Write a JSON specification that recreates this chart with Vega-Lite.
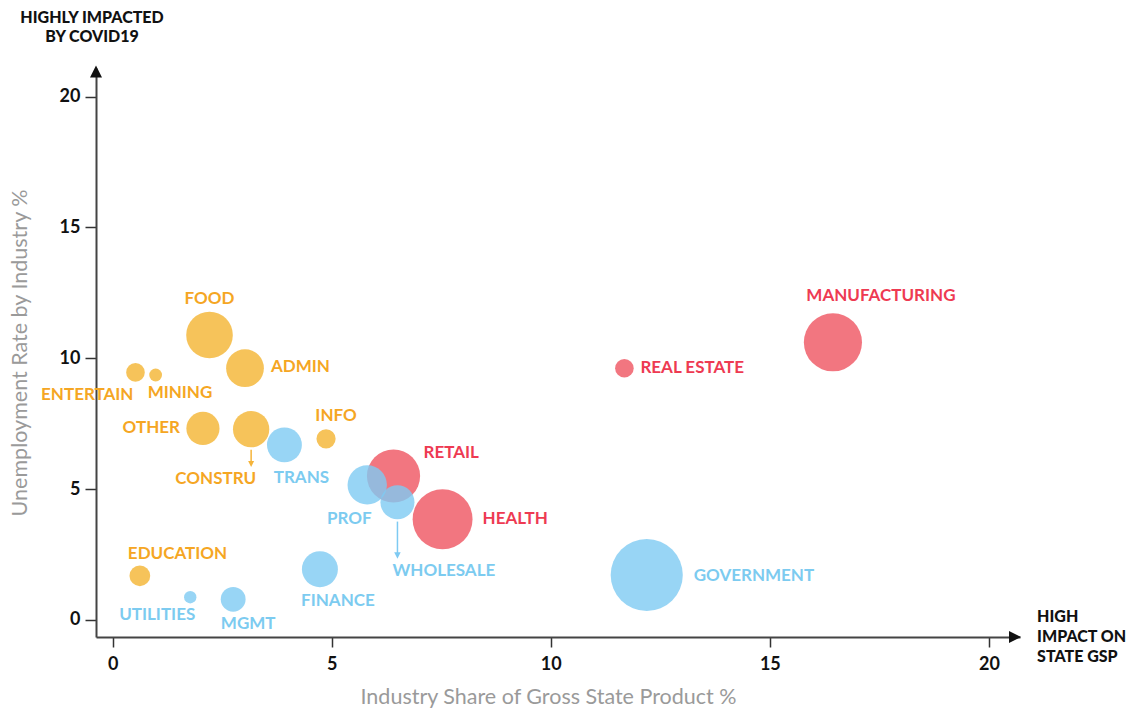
{
  "$schema": "https://vega.github.io/schema/vega-lite/v6.json",
  "width": 924,
  "height": 569,
  "autosize": "none",
  "padding": {"left": 96, "top": 68, "right": 106, "bottom": 73},
  "background": "white",
  "config": {
    "view": {"stroke": null},
    "font": "Lato",
    "text": {"font": "Lato", "fontSize": 17, "fontWeight": "bold", "baseline": "middle"},
    "axis": {
      "grid": false,
      "domainColor": "#444444",
      "domainWidth": 2,
      "tickColor": "#333333",
      "tickWidth": 1.5,
      "labelFont": "Lato",
      "labelFontSize": 18,
      "labelFontWeight": "bold",
      "labelColor": "#111111",
      "titleFont": "Lato",
      "titleFontSize": 21.5,
      "titleFontWeight": "normal",
      "titleColor": "#9a9a9a"
    }
  },
  "data": {
    "values": [
      {"industry": "FOOD", "category": "Highly impacted", "gsp_share": 2.21, "unemployment": 10.89, "employment": 692},
      {"industry": "ADMIN", "category": "Highly impacted", "gsp_share": 3.02, "unemployment": 9.62, "employment": 454},
      {"industry": "ENTERTAIN", "category": "Highly impacted", "gsp_share": 0.52, "unemployment": 9.46, "employment": 110},
      {"industry": "MINING", "category": "Highly impacted", "gsp_share": 0.98, "unemployment": 9.36, "employment": 52},
      {"industry": "OTHER", "category": "Highly impacted", "gsp_share": 2.06, "unemployment": 7.32, "employment": 350},
      {"industry": "CONSTRU", "category": "Highly impacted", "gsp_share": 3.16, "unemployment": 7.29, "employment": 420},
      {"industry": "INFO", "category": "Highly impacted", "gsp_share": 4.87, "unemployment": 6.92, "employment": 117},
      {"industry": "EDUCATION", "category": "Highly impacted", "gsp_share": 0.62, "unemployment": 1.69, "employment": 137},
      {"industry": "RETAIL", "category": "High impact on both", "gsp_share": 6.41, "unemployment": 5.5, "employment": 900},
      {"industry": "HEALTH", "category": "High impact on both", "gsp_share": 7.53, "unemployment": 3.85, "employment": 1142},
      {"industry": "REAL ESTATE", "category": "High impact on both", "gsp_share": 11.68, "unemployment": 9.62, "employment": 110},
      {"industry": "MANUFACTURING", "category": "High impact on both", "gsp_share": 16.44, "unemployment": 10.61, "employment": 1076},
      {"industry": "TRANS", "category": "Lower impact", "gsp_share": 3.92, "unemployment": 6.69, "employment": 388},
      {"industry": "PROF", "category": "Lower impact", "gsp_share": 5.81, "unemployment": 5.16, "employment": 493},
      {"industry": "WHOLESALE", "category": "Lower impact", "gsp_share": 6.5, "unemployment": 4.5, "employment": 369},
      {"industry": "FINANCE", "category": "Lower impact", "gsp_share": 4.73, "unemployment": 1.94, "employment": 412},
      {"industry": "UTILITIES", "category": "Lower impact", "gsp_share": 1.77, "unemployment": 0.87, "employment": 49},
      {"industry": "MGMT", "category": "Lower impact", "gsp_share": 2.75, "unemployment": 0.79, "employment": 196},
      {"industry": "GOVERNMENT", "category": "Lower impact", "gsp_share": 12.19, "unemployment": 1.72, "employment": 1656}
    ]
  },
  "encoding": {
    "x": {
      "field": "gsp_share",
      "type": "quantitative",
      "scale": {"domain": [-0.381, 20.71], "nice": false, "zero": false},
      "axis": {"values": [0, 5, 10, 15, 20], "tickSize": 10, "labelPadding": 8, "title": "Industry Share of Gross State Product %", "titlePadding": 13, "titleX": 452}
    },
    "y": {
      "field": "unemployment",
      "type": "quantitative",
      "scale": {"domain": [-0.65, 21.09], "nice": false, "zero": false},
      "axis": {"values": [0, 5, 10, 15, 20], "tickSize": 11, "labelPadding": 5, "title": "Unemployment Rate by Industry %", "titlePadding": 28}
    }
  },
  "layer": [
    {
      "mark": {"type": "circle", "opacity": 0.8},
      "encoding": {
        "size": {"field": "employment", "type": "quantitative", "scale": {"domain": [0, 2000], "range": [0, 6283.2]}, "legend": null},
        "color": {"field": "category", "type": "nominal", "scale": {"domain": ["Highly impacted", "High impact on both", "Lower impact"], "range": ["#F4B431", "#EF5460", "#7ECAF2"]}, "legend": null}
      }
    },
    {
      "transform": [{"filter": "datum.industry === 'CONSTRU'"}],
      "mark": {"type": "rule", "color": "#F5B43A", "strokeWidth": 1.5},
      "encoding": {"y": {"datum": 6.5, "type": "quantitative"}, "y2": {"datum": 5.98}}
    },
    {
      "transform": [{"filter": "datum.industry === 'CONSTRU'"}],
      "mark": {"type": "point", "shape": "M-1,-1L1,-1L0,1Z", "filled": true, "opacity": 1, "color": "#F5B43A", "size": 36},
      "encoding": {"y": {"datum": 5.96, "type": "quantitative"}}
    },
    {
      "transform": [{"filter": "datum.industry === 'WHOLESALE'"}],
      "mark": {"type": "rule", "color": "#7ECAF2", "strokeWidth": 1.5},
      "encoding": {"y": {"datum": 3.76, "type": "quantitative"}, "y2": {"datum": 2.5}}
    },
    {
      "transform": [{"filter": "datum.industry === 'WHOLESALE'"}],
      "mark": {"type": "point", "shape": "M-1,-1L1,-1L0,1Z", "filled": true, "opacity": 1, "color": "#7ECAF2", "size": 42},
      "encoding": {"y": {"datum": 2.46, "type": "quantitative"}}
    },
    {"transform": [{"filter": "datum.industry === 'FOOD'"}], "mark": {"type": "text", "align": "center", "dx": 0, "dy": -36, "color": "#F5A623"}, "encoding": {"text": {"field": "industry"}}},
    {"transform": [{"filter": "datum.industry === 'ADMIN'"}], "mark": {"type": "text", "align": "left", "dx": 26, "dy": -1, "color": "#F5A623"}, "encoding": {"text": {"field": "industry"}}},
    {"transform": [{"filter": "datum.industry === 'ENTERTAIN'"}], "mark": {"type": "text", "align": "right", "dx": -2, "dy": 23, "color": "#F5A623"}, "encoding": {"text": {"field": "industry"}}},
    {"transform": [{"filter": "datum.industry === 'MINING'"}], "mark": {"type": "text", "align": "left", "dx": -8, "dy": 18, "color": "#F5A623"}, "encoding": {"text": {"field": "industry"}}},
    {"transform": [{"filter": "datum.industry === 'OTHER'"}], "mark": {"type": "text", "align": "right", "dx": -23, "dy": 0, "color": "#F5A623"}, "encoding": {"text": {"field": "industry"}}},
    {"transform": [{"filter": "datum.industry === 'CONSTRU'"}], "mark": {"type": "text", "align": "right", "dx": 5, "dy": 50, "color": "#F5A623"}, "encoding": {"text": {"field": "industry"}}},
    {"transform": [{"filter": "datum.industry === 'INFO'"}], "mark": {"type": "text", "align": "center", "dx": 10, "dy": -23, "color": "#F5A623"}, "encoding": {"text": {"field": "industry"}}},
    {"transform": [{"filter": "datum.industry === 'EDUCATION'"}], "mark": {"type": "text", "align": "left", "dx": -12, "dy": -22, "color": "#F5A623"}, "encoding": {"text": {"field": "industry"}}},
    {"transform": [{"filter": "datum.industry === 'RETAIL'"}], "mark": {"type": "text", "align": "left", "dx": 30, "dy": -23, "color": "#EE3A52"}, "encoding": {"text": {"field": "industry"}}},
    {"transform": [{"filter": "datum.industry === 'HEALTH'"}], "mark": {"type": "text", "align": "left", "dx": 40, "dy": 0, "color": "#EE3A52"}, "encoding": {"text": {"field": "industry"}}},
    {"transform": [{"filter": "datum.industry === 'REAL ESTATE'"}], "mark": {"type": "text", "align": "left", "dx": 16, "dy": 0, "color": "#EE3A52"}, "encoding": {"text": {"field": "industry"}}},
    {"transform": [{"filter": "datum.industry === 'MANUFACTURING'"}], "mark": {"type": "text", "align": "center", "dx": 48, "dy": -46, "color": "#EE3A52"}, "encoding": {"text": {"field": "industry"}}},
    {"transform": [{"filter": "datum.industry === 'TRANS'"}], "mark": {"type": "text", "align": "center", "dx": 17, "dy": 33, "color": "#7CCBF0"}, "encoding": {"text": {"field": "industry"}}},
    {"transform": [{"filter": "datum.industry === 'PROF'"}], "mark": {"type": "text", "align": "center", "dx": -18, "dy": 34, "color": "#7CCBF0"}, "encoding": {"text": {"field": "industry"}}},
    {"transform": [{"filter": "datum.industry === 'WHOLESALE'"}], "mark": {"type": "text", "align": "left", "dx": -5, "dy": 69, "color": "#7CCBF0"}, "encoding": {"text": {"field": "industry"}}},
    {"transform": [{"filter": "datum.industry === 'FINANCE'"}], "mark": {"type": "text", "align": "center", "dx": 18, "dy": 32, "color": "#7CCBF0"}, "encoding": {"text": {"field": "industry"}}},
    {"transform": [{"filter": "datum.industry === 'UTILITIES'"}], "mark": {"type": "text", "align": "right", "dx": 5, "dy": 18, "color": "#7CCBF0"}, "encoding": {"text": {"field": "industry"}}},
    {"transform": [{"filter": "datum.industry === 'MGMT'"}], "mark": {"type": "text", "align": "center", "dx": 15, "dy": 25, "color": "#7CCBF0"}, "encoding": {"text": {"field": "industry"}}},
    {"transform": [{"filter": "datum.industry === 'GOVERNMENT'"}], "mark": {"type": "text", "align": "left", "dx": 47, "dy": 1, "color": "#7CCBF0"}, "encoding": {"text": {"field": "industry"}}},
    {
      "transform": [{"filter": "datum.industry === 'FOOD'"}],
      "mark": {"type": "point", "shape": "M-1,-1L1,0L-1,1Z", "filled": true, "opacity": 1, "color": "#111111", "size": 144},
      "encoding": {"x": {"datum": 20.596, "type": "quantitative"}, "y": {"datum": -0.65, "type": "quantitative"}}
    },
    {
      "transform": [{"filter": "datum.industry === 'FOOD'"}],
      "mark": {"type": "point", "shape": "M-1,1L0,-1L1,1Z", "filled": true, "opacity": 1, "color": "#111111", "size": 144},
      "encoding": {"x": {"datum": -0.381, "type": "quantitative"}, "y": {"datum": 20.96, "type": "quantitative"}}
    },
    {
      "transform": [{"filter": "datum.industry === 'FOOD'"}],
      "mark": {"type": "text", "text": ["HIGHLY IMPACTED", "BY COVID19"], "align": "center", "baseline": "alphabetic", "lineHeight": 19.6, "fontSize": 16, "fontWeight": 900, "color": "#111111"},
      "encoding": {"x": {"datum": -0.472, "type": "quantitative"}, "y": {"datum": 22.82, "type": "quantitative"}}
    },
    {
      "transform": [{"filter": "datum.industry === 'FOOD'"}],
      "mark": {"type": "text", "text": ["HIGH", "IMPACT ON", "STATE GSP"], "align": "left", "baseline": "alphabetic", "lineHeight": 19.7, "fontSize": 16, "fontWeight": 900, "color": "#111111"},
      "encoding": {"x": {"datum": 21.1, "type": "quantitative"}, "y": {"datum": -0.088, "type": "quantitative"}}
    }
  ]
}
